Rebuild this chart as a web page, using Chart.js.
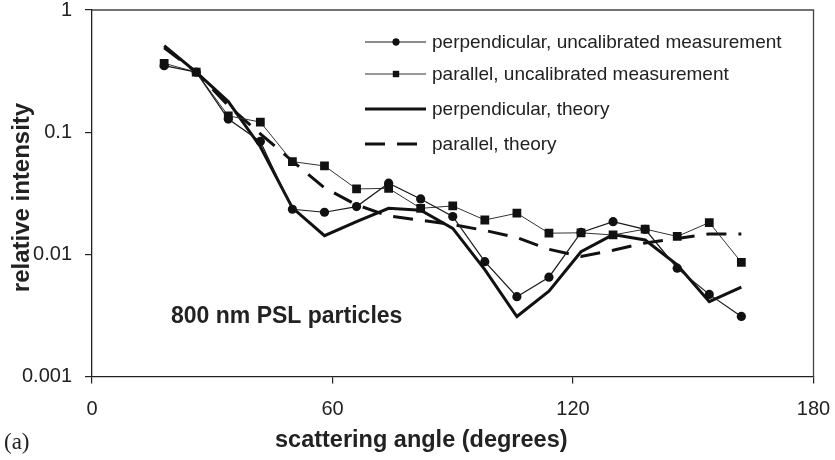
<!DOCTYPE html>
<html>
<head>
<meta charset="utf-8">
<script src="https://cdn.jsdelivr.net/npm/chart.js@4.4.0/dist/chart.umd.min.js"></script>
<style>
  html, body { margin: 0; padding: 0; background: #fff; }
  #wrap { width: 835px; height: 460px; }
</style>
</head>
<body>
<div id="wrap"><canvas id="c" width="835" height="460"></canvas></div>
<script>
// Scattering angles (degrees) at which intensities were sampled
const angles = [18, 26, 34, 42, 50, 58, 66, 74, 82, 90, 98, 106, 114, 122, 130, 138, 146, 154, 162];

// Relative intensity, perpendicular polarisation, uncalibrated measurement
const perpMeasured = [0.35, 0.31, 0.128, 0.084, 0.0234, 0.0221, 0.0246, 0.0382, 0.0284, 0.0204,
                      0.0087, 0.0045, 0.0065, 0.0151, 0.0185, 0.016, 0.0077, 0.0047, 0.0031];
// Relative intensity, parallel polarisation, uncalibrated measurement
const paraMeasured = [0.366, 0.31, 0.136, 0.121, 0.0574, 0.0529, 0.0343, 0.0347, 0.0238, 0.0249,
                      0.0191, 0.0217, 0.0149, 0.015, 0.0144, 0.0161, 0.014, 0.0182, 0.0086];
// Mie theory, perpendicular
const perpTheory = [0.51, 0.31, 0.178, 0.076, 0.024, 0.0142, 0.0185, 0.0238, 0.023, 0.0163,
                    0.0075, 0.0031, 0.005, 0.0105, 0.0145, 0.0131, 0.0082, 0.0041, 0.0054];
// Mie theory, parallel
const paraTheory = [0.49, 0.31, 0.165, 0.097, 0.058, 0.035, 0.0254, 0.0206, 0.019, 0.0175,
                    0.0157, 0.0137, 0.011, 0.0096, 0.0108, 0.0124, 0.0135, 0.0147, 0.0147];

const seriesLabels = [
  'perpendicular, uncalibrated measurement',
  'parallel, uncalibrated measurement',
  'perpendicular, theory',
  'parallel, theory'
];

const yTickValues = [0.001, 0.01, 0.1, 1];
const xTickStep = 60;

const SANS = '"Liberation Sans", Arial, Helvetica, sans-serif';
const INK = '#222';

const toPoints = (ys) => angles.map((a, i) => ({ x: a, y: ys[i] }));

const datasets = [
  {
    label: seriesLabels[0], data: toPoints(perpMeasured), showLine: true,
    borderColor: '#1a1a1a', borderWidth: 1.2, pointStyle: 'circle', pointRadius: 4.6,
    pointBackgroundColor: '#111', pointBorderColor: '#111', pointBorderWidth: 0,
    legendMarker: 3.4
  },
  {
    label: seriesLabels[1], data: toPoints(paraMeasured), showLine: true,
    borderColor: '#333', borderWidth: 1, pointStyle: 'rect', pointRadius: 6.2,
    pointBackgroundColor: '#111', pointBorderColor: '#111', pointBorderWidth: 0,
    legendMarker: 4.4
  },
  {
    label: seriesLabels[2], data: toPoints(perpTheory), showLine: true,
    borderColor: '#111', borderWidth: 3, pointRadius: 0
  },
  {
    label: seriesLabels[3], data: toPoints(paraTheory), showLine: true,
    borderColor: '#111', borderWidth: 3, borderDash: [20, 12], pointRadius: 0
  }
];

// Closes the plot box on the top and right sides
const framePlugin = {
  id: 'frame',
  afterDraw(chart) {
    const { ctx, chartArea: a } = chart;
    ctx.save();
    ctx.strokeStyle = '#444';
    ctx.lineWidth = 1.3;
    ctx.beginPath();
    ctx.moveTo(a.left, a.top);
    ctx.lineTo(a.right, a.top);
    ctx.lineTo(a.right, a.bottom);
    ctx.stroke();
    ctx.restore();
  }
};

// Legend drawn inside the plot area, each entry showing its line and marker
const insideLegend = {
  id: 'insideLegend',
  afterDraw(chart) {
    const { ctx } = chart;
    const rows = [42, 74, 109, 144];
    const x0 = 365, x1 = 426, tx = 432;
    ctx.save();
    chart.data.datasets.forEach((ds, i) => {
      const y = rows[i];
      ctx.strokeStyle = ds.borderColor;
      ctx.lineWidth = ds.borderWidth;
      ctx.setLineDash(ds.borderDash || []);
      ctx.beginPath();
      ctx.moveTo(x0, y);
      ctx.lineTo(ds.borderDash ? 421 : x1, y);
      ctx.stroke();
      ctx.setLineDash([]);
      if (ds.pointRadius > 0) {
        Chart.helpers.drawPoint(ctx, {
          pointStyle: ds.pointStyle, radius: ds.legendMarker, borderWidth: 0
        }, 396, y);
        ctx.fillStyle = ds.pointBackgroundColor;
        ctx.fill();
      }
      ctx.fillStyle = INK;
      ctx.font = '19px ' + SANS;
      ctx.textAlign = 'left';
      ctx.textBaseline = 'middle';
      ctx.fillText(ds.label, tx, y + 1);
    });
    ctx.restore();
  }
};

// Axis titles, panel tag and sample note
const textPlugin = {
  id: 'texts',
  afterDraw(chart) {
    const { ctx } = chart;
    ctx.save();
    ctx.fillStyle = INK;
    ctx.textBaseline = 'alphabetic';

    ctx.font = 'bold 23.5px ' + SANS;
    ctx.textAlign = 'left';
    ctx.fillText('scattering angle (degrees)', 275, 446.5);

    ctx.font = 'bold 23px ' + SANS;
    ctx.fillText('800 nm PSL particles', 171, 322.5);

    ctx.save();
    ctx.translate(28.5, 197.5);
    ctx.rotate(-Math.PI / 2);
    ctx.textAlign = 'center';
    ctx.font = 'bold 24px ' + SANS;
    ctx.fillText('relative intensity', 0, 0);
    ctx.restore();

    ctx.font = '23px "Liberation Serif", "Times New Roman", serif';
    ctx.textAlign = 'left';
    ctx.fillText('(a)', 4, 449);
    ctx.restore();
  }
};

new Chart(document.getElementById('c'), {
  type: 'scatter',
  data: { datasets },
  options: {
    responsive: false,
    animation: false,
    layout: { padding: { left: 0, right: 21.5, top: 10, bottom: 0 } },
    plugins: { legend: { display: false }, tooltip: { enabled: false } },
    scales: {
      x: {
        type: 'linear', min: 0, max: 180,
        ticks: { stepSize: xTickStep, color: INK, font: { family: SANS, size: 20 }, padding: 14 },
        grid: { display: true, drawOnChartArea: false, drawTicks: true, tickLength: 7, color: INK, lineWidth: 1.2 },
        border: { display: true, color: INK, width: 1.3 },
        afterFit(s) { s.height = 83.5; s.paddingLeft = 0; s.paddingRight = 0; }
      },
      y: {
        type: 'logarithmic', min: 0.001, max: 1,
        afterBuildTicks(s) { s.ticks = yTickValues.map(v => ({ value: v })); },
        ticks: {
          color: INK, font: { family: SANS, size: 20 }, padding: 13,
          callback: (v) => String(v)
        },
        grid: { display: true, drawOnChartArea: false, drawTicks: true, tickLength: 7, color: INK, lineWidth: 1.2 },
        border: { display: true, color: INK, width: 1.3 },
        afterFit(s) { s.width = 92; s.paddingTop = 0; s.paddingBottom = 0; }
      }
    }
  },
  plugins: [framePlugin, insideLegend, textPlugin]
});
</script>
</body>
</html>
